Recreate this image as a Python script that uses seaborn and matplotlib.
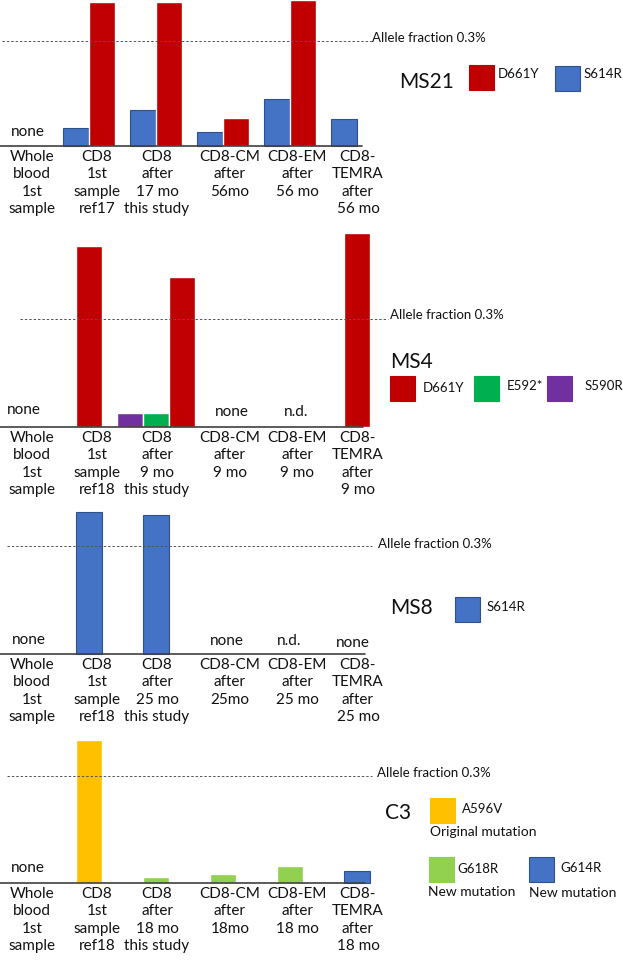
import matplotlib
matplotlib.use("Agg")
import matplotlib.pyplot as plt
import matplotlib.transforms as mtrans
from matplotlib.patches import Rectangle
import pandas as pd
import seaborn as sns

# ---- data (allele fraction, %; dashed line = 0.3 %) ----
SAMPLES = ['WB', 'CD8_1', 'CD8_2', 'CM', 'EM', 'TEMRA']

ms21_sample = ['CD8_1', 'CD8_1', 'CD8_2', 'CD8_2', 'CM', 'CM', 'EM', 'EM', 'TEMRA']
ms21_mut = ['S614R', 'D661Y', 'S614R', 'D661Y', 'S614R', 'D661Y', 'S614R', 'D661Y', 'S614R']
ms21_af = [0.051, 0.411, 0.103, 0.411, 0.041, 0.079, 0.135, 0.417, 0.077]

ms4_single_sample = ['CD8_1', 'TEMRA']
ms4_single_af = [0.505, 0.541]
ms4_group_sample = ['CD8_2', 'CD8_2', 'CD8_2']
ms4_group_mut = ['S590R', 'E592*', 'D661Y']
ms4_group_af = [0.038, 0.039, 0.419]

ms8_sample = ['CD8_1', 'CD8_2']
ms8_af = [0.394, 0.386]

c3_sample = ['CD8_1', 'CD8_2', 'CM', 'EM', 'TEMRA']
c3_mut = ['A596V', 'G618R', 'G618R', 'G618R', 'G614R']
c3_af = [0.401, 0.017, 0.025, 0.048, 0.034]

labels_ms21 = ['Whole\nblood\n1st\nsample', 'CD8\n1st\nsample\nref17', 'CD8\nafter\n17 mo\nthis study',
               'CD8-CM\nafter\n56mo', 'CD8-EM\nafter\n56 mo', 'CD8-\nTEMRA\nafter\n56 mo']
labels_ms4 = ['Whole\nblood\n1st\nsample', 'CD8\n1st\nsample\nref18', 'CD8\nafter\n9 mo\nthis study',
              'CD8-CM\nafter\n9 mo', 'CD8-EM\nafter\n9 mo', 'CD8-\nTEMRA\nafter\n9 mo']
labels_ms8 = ['Whole\nblood\n1st\nsample', 'CD8\n1st\nsample\nref18', 'CD8\nafter\n25 mo\nthis study',
              'CD8-CM\nafter\n25mo', 'CD8-EM\nafter\n25 mo', 'CD8-\nTEMRA\nafter\n25 mo']
labels_c3 = ['Whole\nblood\n1st\nsample', 'CD8\n1st\nsample\nref18', 'CD8\nafter\n18 mo\nthis study',
             'CD8-CM\nafter\n18mo', 'CD8-EM\nafter\n18 mo', 'CD8-\nTEMRA\nafter\n18 mo']

COLORS = {'D661Y': '#C00000', 'S614R': '#4472C4', 'E592*': '#00B050', 'S590R': '#7030A0',
          'A596V': '#FFC000', 'G618R': '#92D050', 'G614R': '#4472C4'}

sns.set_theme(style='white')
plt.rcParams['font.family'] = ['Lato', 'DejaVu Sans']

W, H = 623, 963
ORIGIN, STEP = 22, 67          # pixel position of first category, pixels per category
LABEL_SHIFT = [10, 8, 1, 7, 7, 1]   # horizontal nudges of the tick labels (px)
fig = plt.figure(figsize=(W / 100, H / 100), dpi=100)


def fx(px):
    return px / W


def fy(py):
    return 1 - py / H


def make_ax(baseline, top, px03):
    h = baseline - top
    ax = fig.add_axes([0, fy(baseline), 372 / W, h / H])
    return ax, h * 0.3 / px03


def finish(ax, ymax, labels, base_end, dash_from=2, dash_to=372, notes=()):
    ax.set_xlim(-ORIGIN / STEP, (372 - ORIGIN) / STEP)
    ax.set_ylim(0, ymax)
    for s in ax.spines.values():
        s.set_visible(False)
    ax.set_xlabel('')
    ax.set_ylabel('')
    ax.set_yticks([])
    ax.set_xticks(range(6))
    ax.set_xticklabels(labels, fontsize=11, linespacing=1.3, color='#111111')
    ax.tick_params(axis='x', length=0, pad=3)
    for lab, dx in zip(ax.get_xticklabels(), LABEL_SHIFT):
        lab.set_transform(lab.get_transform() + mtrans.ScaledTranslation(dx / 100, 0, fig.dpi_scale_trans))
    ax.axhline(0, xmin=0, xmax=base_end / 372, color='#404040', lw=1.2, clip_on=False, zorder=5)
    ax.axhline(0.3, xmin=dash_from / 372, xmax=dash_to / 372, color='#555555', lw=0.7,
               ls=(0, (2.5, 2)), clip_on=False)
    for x, y, t in notes:
        ax.text((x - ORIGIN) / STEP, y, t, ha='center', va='center', fontsize=11, color='#111111')
    for p in ax.patches:
        p.set_clip_on(False)
        if p.get_facecolor()[:3] == matplotlib.colors.to_rgb(COLORS['S614R']):
            p.set_edgecolor('#2F528F')
            p.set_linewidth(0.8)


def square(x, y, color, edge=None):
    fig.patches.append(Rectangle((fx(x), fy(y + 25)), 25 / W, 25 / H, transform=fig.transFigure,
                                 facecolor=color, edgecolor=edge or color, lw=0.8))


def txt(x, y, s, size=9.5, **kw):
    fig.text(fx(x), fy(y), s, fontsize=size, va='center', ha='left', color='#111111', **kw)


BW = 26 / STEP   # width of one bar in category units

# ---- MS21 ----
ax, ymax = make_ax(146, 0, 105)
df = pd.DataFrame({'sample': ms21_sample, 'mutation': ms21_mut, 'af': ms21_af})
sns.barplot(data=df, x='sample', y='af', hue='mutation', order=SAMPLES, hue_order=['S614R', 'D661Y'],
            palette=COLORS, saturation=1, width=2 * BW, errorbar=None, legend=False, ax=ax)
finish(ax, ymax, labels_ms21, 362, notes=[(28, 0.04, 'none')])
txt(372, 38, 'Allele fraction 0.3%')
txt(399, 82, 'MS21', size=15)
square(469, 65, COLORS['D661Y'])
txt(498, 74, 'D661Y')
square(555, 66, COLORS['S614R'], '#2F528F')
txt(584, 74, 'S614R')

# ---- MS4 ----
ax, ymax = make_ax(427, 230, 107.5)
df1 = pd.DataFrame({'sample': ms4_single_sample, 'af': ms4_single_af})
sns.barplot(data=df1, x='sample', y='af', order=SAMPLES, color=COLORS['D661Y'], saturation=1,
            width=BW, errorbar=None, ax=ax)
df2 = pd.DataFrame({'sample': ms4_group_sample, 'mutation': ms4_group_mut, 'af': ms4_group_af})
sns.barplot(data=df2, x='sample', y='af', hue='mutation', order=SAMPLES,
            hue_order=['S590R', 'E592*', 'D661Y'], palette=COLORS, saturation=1, width=3 * BW,
            errorbar=None, legend=False, ax=ax)
finish(ax, ymax, labels_ms4, 363, dash_from=20, dash_to=388,
       notes=[(24, 0.047, 'none'), (232, 0.042, 'none'), (296, 0.042, 'n.d.')])
txt(390, 315, 'Allele fraction 0.3%')
txt(390, 362, 'MS4', size=15)
square(390, 376, COLORS['D661Y'])
txt(423, 388, 'D661Y')
square(474, 376, COLORS['E592*'])
txt(507, 386, 'E592*')
square(547, 376, COLORS['S590R'])
txt(585, 386, 'S590R')

# ---- MS8 ----
ax, ymax = make_ax(654, 508, 108)
df = pd.DataFrame({'sample': ms8_sample, 'af': ms8_af})
sns.barplot(data=df, x='sample', y='af', order=SAMPLES, color=COLORS['S614R'], saturation=1,
            width=BW, errorbar=None, ax=ax)
finish(ax, ymax, labels_ms8, 365, dash_from=7, dash_to=372,
       notes=[(29, 0.039, 'none'), (227, 0.036, 'none'), (289, 0.036, 'n.d.'), (353, 0.031, 'none')])
txt(378, 544, 'Allele fraction 0.3%')
txt(390, 608, 'MS8', size=15)
square(455, 597, COLORS['S614R'], '#2F528F')
txt(487, 607, 'S614R')

# ---- C3 ----
ax, ymax = make_ax(883, 735, 107)
df = pd.DataFrame({'sample': c3_sample, 'mutation': c3_mut, 'af': c3_af})
sns.barplot(data=df, x='sample', y='af', hue='mutation', order=SAMPLES, palette=COLORS, saturation=1,
            dodge=False, width=BW, errorbar=None, legend=False, ax=ax)
finish(ax, ymax, labels_c3, 365, dash_from=7, dash_to=372, notes=[(28, 0.042, 'none')])
txt(377, 773, 'Allele fraction 0.3%')
txt(385, 813, 'C3', size=15)
square(430, 798, COLORS['A596V'])
txt(462, 809, 'A596V')
txt(430, 832, 'Original mutation', size=10)
square(429, 857, COLORS['G618R'])
txt(457, 869, 'G618R')
txt(428, 892, 'New mutation', size=10)
square(529, 857, COLORS['G614R'], '#2F528F')
txt(560, 868, 'G614R')
txt(529, 893, 'New mutation', size=10)

fig.savefig('out.png', dpi=100)
